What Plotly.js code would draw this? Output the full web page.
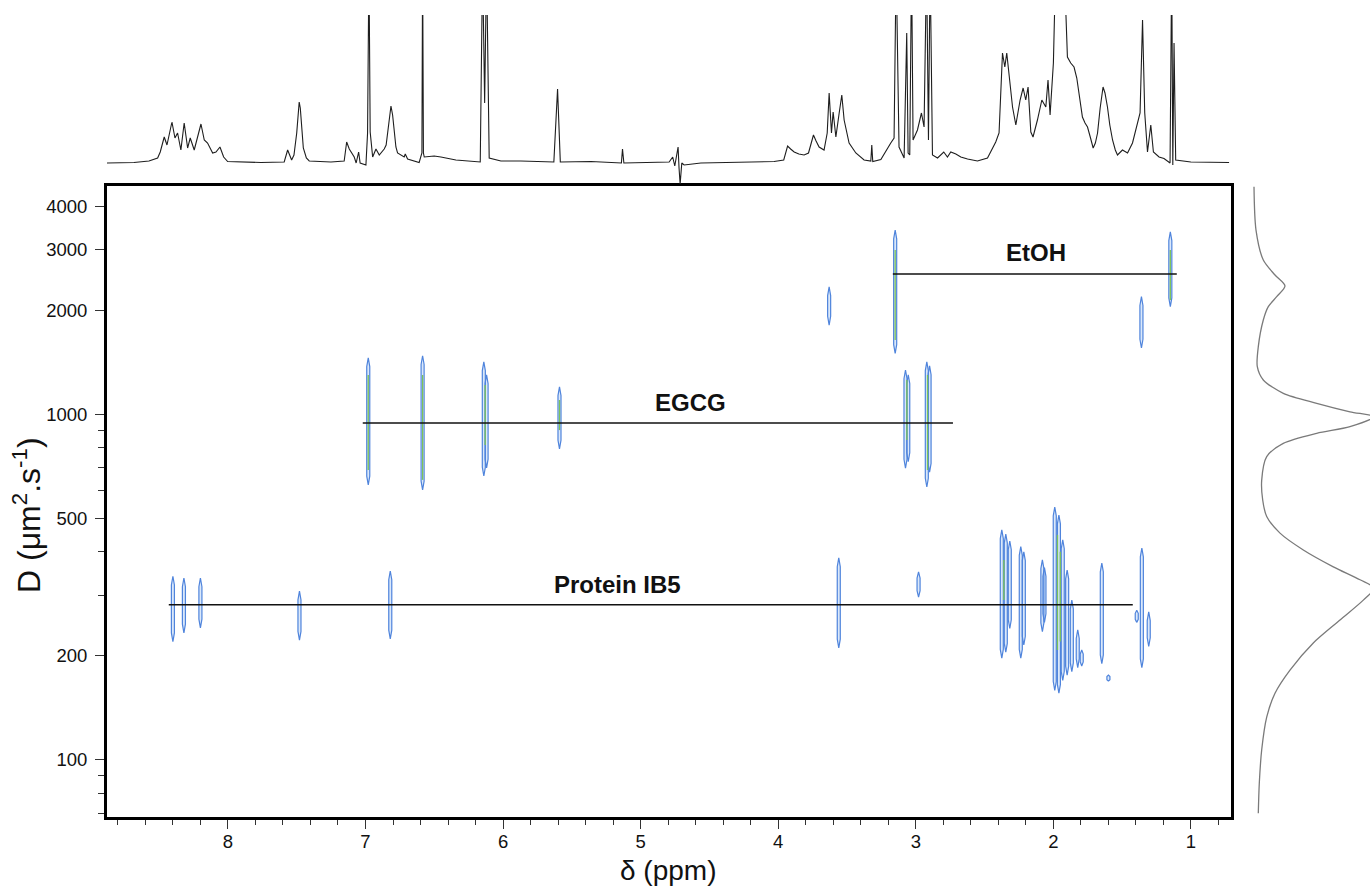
<!DOCTYPE html>
<html>
<head>
<meta charset="utf-8">
<script src="https://cdn.plot.ly/plotly-3.0.1.min.js"></script>
<style>html,body{margin:0;padding:0;background:#fff;}#chart{width:1370px;height:887px;}</style>
</head>
<body>
<div id="chart"></div>
<script>
// ---------- 1D 1H spectrum (top trace) ----------
const specPpm = [8.892,8.683,8.574,8.511,8.492,8.463,8.443,8.407,8.385,8.366,8.342,8.318,8.293,8.274,8.245,8.196,8.172,8.148,8.111,8.087,8.058,8.031,8.002,7.906,7.760,7.591,7.566,7.537,7.52,7.50,7.49,7.482,7.474,7.464,7.452,7.43,7.409,7.251,7.155,7.137,7.118,7.082,7.068,7.050,7.039,6.997,6.985,6.975,6.966,6.948,6.924,6.900,6.864,6.85,6.839,6.827,6.815,6.803,6.791,6.779,6.767,6.719,6.711,6.694,6.610,6.590,6.585,6.579,6.573,6.501,6.452,6.343,6.166,6.149,6.134,6.120,6.101,6.016,5.871,5.631,5.604,5.584,5.362,5.140,5.132,5.122,4.793,4.767,4.752,4.738,4.728,4.721,4.713,4.701,4.684,4.562,4.126,4.030,3.96,3.945,3.932,3.91,3.884,3.85,3.812,3.78,3.76,3.744,3.725,3.703,3.667,3.644,3.630,3.613,3.601,3.581,3.557,3.538,3.521,3.485,3.436,3.376,3.327,3.320,3.313,3.254,3.182,3.158,3.143,3.122,3.085,3.066,3.056,3.044,3.031,3.020,2.988,2.959,2.940,2.922,2.908,2.896,2.879,2.842,2.797,2.770,2.746,2.709,2.673,2.624,2.552,2.479,2.419,2.395,2.370,2.353,2.339,2.322,2.297,2.273,2.242,2.220,2.201,2.184,2.164,2.148,2.116,2.084,2.055,2.039,2.024,2.000,1.983,1.922,1.898,1.874,1.850,1.83,1.813,1.80,1.789,1.77,1.752,1.73,1.711,1.695,1.679,1.66,1.645,1.639,1.625,1.607,1.59,1.570,1.55,1.534,1.498,1.461,1.425,1.389,1.370,1.352,1.336,1.316,1.292,1.273,1.232,1.196,1.152,1.140,1.132,1.123,1.111,1.001,0.723];
const specInt = [0,0.5,2,5,11,26,18,41,25,30,13,40,15,25,13,39,23,20,10,11,16,6,1.5,1,0.5,1,13,3,8,30,52,61,55,35,15,5,2,1,2,21,14,6,0,11,0,-2,30,200,31,6,14,8,14,18,30,48,57,48,30,16,10,6,9,4,0.5,10,200,10,6,7,6,3,1,200,60,200,5,2,2,1,74,1,1.5,0,14,0,1,6,-3,8,16,-5,-21,0,-2,0,1.5,1.5,3,10,17,14,11,9,8,10,20,28,22,16,13,30,70,30,51,26,50,68,43,20,10,3,2,18,1.5,3.5,20,25,200,16,5,130,10,8,200,23,33,50,36,200,23,200,8,5,11,6,11,9,6,4,2,5,21,30,110,96,110,86,56,38,63,75,63,76,31,26,43,63,56,83,48,100,200,200,106,100,96,85,70,55,46,40,36,25,15,20,30,55,73,76,70,56,38,23,13,8,13,10,20,40,50,143,50,11,38,11,6,4.5,0,200,-2,120,3,1,0.5];

// ---------- diffusion projection (right trace) ----------
const projD   = [4550,3411,2795,2529,2350,2189,2048,1874,1569,1373,1257,1150,1076,1017,984,921,881,824,754,645,565,506,453,405,362,332,314,290,254,218,182,156,133,107,85.6,70.1];
const projInt = [0,2,9.3,21,31,22.7,14.3,9.3,4.3,3.3,9.3,29.3,62.7,96,120,96,62.7,29.3,12.7,7.7,8.7,12.7,26,49.3,79.3,106,120,109.3,86,59.3,36,21,12.7,7.7,5.3,4.3];

// ---------- DOSY cross peaks: chemical shift (ppm), D range (µm²/s) ----------
const bluePpm = [3.15,3.63,1.36,1.15, 6.98,6.585,6.14,6.12,5.59,3.075,3.055,2.92,2.90, 8.40,8.32,8.20,7.48,6.82,3.56,2.98,2.375,2.346,2.317,2.237,2.215,2.08,2.065,1.99,1.96,1.932,1.90,1.866,1.823,1.794,1.648,1.60,1.357,1.307,1.394];
const blueDlo = [1501,1812,1555,2048, 625,604,663,700,794,699,730,616,680, 220,233,241,222,224,211,296,197,205,240,197,215,235,250,159,156,170,176,180,185,187,190,169,185,213,250];
const blueDhi = [3411,2337,2189,3373, 1456,1477,1418,1300,1200,1343,1300,1418,1380, 340,336,336,308,352,384,350,463,450,430,414,400,379,360,539,511,433,354,290,238,208,371,176,410,268,271];

const greenPpm = [6.98,6.585,6.13,5.59,3.065,2.915,3.15,1.15,2.36,1.97,1.95];
const greenDlo = [690,646,815,900,843,690,1640,2141,290,208,220];
const greenDhi = [1300,1299,1216,1100,1257,1299,2988,2988,379,448,400];

// ---------- component assignment lines ----------
const compNames = ['EtOH','EGCG','Protein IB5'];
const compD     = [2546, 944, 281];
const compFrom  = [3.167, 7.02, 8.43];
const compTo    = [1.103, 2.73, 1.423];
const compLabelPpm = [2.128, 4.635, 5.166];
const compLabelD   = [2929, 1085, 321];

// ---------- axis ticks ----------
const yTickVals = [100,200,500,1000,2000,3000,4000];
const yMinorVals = [70,80,90,300,400,600,700,800,900];
const xTickVals = [1,2,3,4,5,6,7,8];

// ---------- build traces ----------
const HALF_W = 0.011; // contour half-width in ppm (drawing style)
function outlines(p, lo, hi){
  const x=[], y=[];
  for(let i=0;i<p.length;i++){
    const k = Math.min(1.06, Math.pow(hi[i]/lo[i], 0.25));
    x.push(p[i], p[i]-HALF_W, p[i]-HALF_W, p[i], p[i]+HALF_W, p[i]+HALF_W, p[i], null);
    y.push(lo[i], lo[i]*k, hi[i]/k, hi[i], hi[i]/k, lo[i]*k, lo[i], null);
  }
  return {x,y};
}
function segs(p, lo, hi){
  const x=[], y=[];
  for(let i=0;i<p.length;i++){ x.push(p[i],p[i],null); y.push(lo[i],hi[i],null); }
  return {x,y};
}
const b = outlines(bluePpm, blueDlo, blueDhi);
const g = segs(greenPpm, greenDlo, greenDhi);
const cx=[], cy=[];
for(let i=0;i<compNames.length;i++){ cx.push(compFrom[i],compTo[i],null); cy.push(compD[i],compD[i],null); }

const W=1370, H=887;
const px = v => v/W, py = v => 1 - v/H;
const FONT = 'Liberation Sans, Arial, Helvetica, sans-serif';

const traces = [
  {x:b.x, y:b.y, xaxis:'x', yaxis:'y', mode:'lines', line:{color:'#4f84dc', width:1.2}, fill:'toself', fillcolor:'rgba(150,190,240,0.35)', hoverinfo:'skip', showlegend:false},
  {x:g.x, y:g.y, xaxis:'x', yaxis:'y', mode:'lines', line:{color:'#7cc35a', width:1.3}, hoverinfo:'skip', showlegend:false},
  {x:cx, y:cy, xaxis:'x', yaxis:'y', mode:'lines', line:{color:'#111', width:1.5}, hoverinfo:'skip', showlegend:false},
  {x:specPpm, y:specInt, xaxis:'x2', yaxis:'y2', mode:'lines', line:{color:'#1e1e1e', width:1.1}, hoverinfo:'skip', showlegend:false},
  {x:projInt, y:projD, xaxis:'x3', yaxis:'y3', mode:'lines', line:{color:'#7a7a7a', width:1.3, shape:'spline', smoothing:0.8}, hoverinfo:'skip', showlegend:false}
];

const xRange = [8.879, 0.709];
const yRange = [Math.log10(68.6), Math.log10(4576)];
const xDom = [px(107), px(1231)];
const yDom = [py(816.5), py(186)];

const annotations = compNames.map((n,i)=>({
  x: compLabelPpm[i], y: Math.log10(compLabelD[i]), xref:'x', yref:'y',
  text:'<b>'+n+'</b>', showarrow:false, font:{family:FONT, size:24, color:'#111'},
  xanchor:'center', yanchor:'middle'
}));
annotations.push({x:px(668), y:py(870), xref:'paper', yref:'paper', text:'δ (ppm)', showarrow:false,
  font:{family:FONT, size:28, color:'#111'}, xanchor:'center', yanchor:'middle'});
annotations.push({x:px(27), y:py(515), xref:'paper', yref:'paper', text:'D (μm<sup>2</sup>.s<sup>-1</sup>)', showarrow:false,
  textangle:-90, font:{family:FONT, size:32, color:'#111'}, xanchor:'center', yanchor:'middle'});

const layout = {
  width:W, height:H, margin:{l:0,r:0,t:0,b:0}, paper_bgcolor:'#fff', plot_bgcolor:'rgba(0,0,0,0)',
  showlegend:false,
  xaxis:{domain:xDom, range:xRange, anchor:'y', showgrid:false, zeroline:false,
    showline:true, linewidth:3, linecolor:'#000', mirror:true,
    tickmode:'array', tickvals:xTickVals, ticks:'outside', ticklen:9, tickwidth:1, tickcolor:'#333',
    minor:{tickmode:'linear', tick0:0, dtick:0.2, ticks:'outside', ticklen:5, tickwidth:1, tickcolor:'#333'},
    tickfont:{family:FONT, size:18.5, color:'#111'}, ticklabelstandoff:-3, automargin:false},
  yaxis:{domain:yDom, range:yRange, type:'log', anchor:'x', showgrid:false, zeroline:false,
    showline:true, linewidth:3, linecolor:'#000', mirror:true,
    tickmode:'array', tickvals:yTickVals, ticktext:yTickVals.map(String), ticks:'outside', ticklen:9, tickwidth:1, tickcolor:'#333',
    minor:{tickmode:'array', tickvals:yMinorVals, ticks:'outside', ticklen:6, tickwidth:1, tickcolor:'#333'},
    tickfont:{family:FONT, size:18.5, color:'#111'}, ticklabelstandoff:4, automargin:false},
  xaxis2:{domain:xDom, range:xRange, anchor:'y2', visible:false},
  yaxis2:{domain:[py(187), py(15)], range:[-24,148], anchor:'x2', visible:false},
  xaxis3:{domain:[px(1250), px(1370)], range:[-4,116], anchor:'y3', visible:false},
  yaxis3:{domain:yDom, range:yRange, type:'log', anchor:'x3', visible:false},
  annotations:annotations
};

Plotly.newPlot('chart', traces, layout, {displayModeBar:false, staticPlot:true});
</script>
</body>
</html>
